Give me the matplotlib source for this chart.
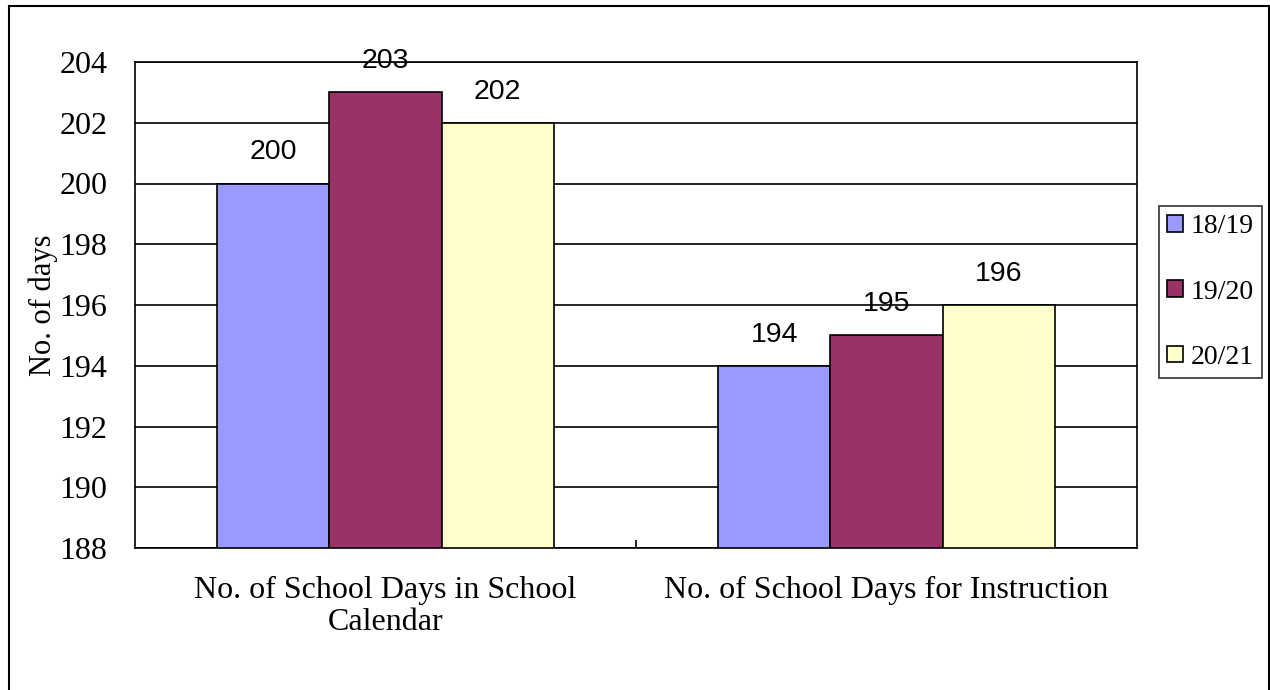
import matplotlib.pyplot as plt
import numpy as np
from matplotlib.patches import Rectangle

# data
categories = ['No. of School Days in School\nCalendar', 'No. of School Days for Instruction']
years = ['18/19', '19/20', '20/21']
days_1819 = [200, 194]
days_1920 = [203, 195]
days_2021 = [202, 196]
colors = ['#9999FF', '#993366', '#FFFFCC']

serif = ['Liberation Serif', 'DejaVu Serif']
plt.rcParams['font.family'] = serif

W, H = 1270, 690
fig = plt.figure(figsize=(W / 100, H / 100), dpi=100)
ax = fig.add_axes([135 / W, 1 - 548 / H, (1137 - 135) / W, (548 - 62) / H])

# outer border (bottom runs off the picture)
fig.patches.append(Rectangle((9 / W, -0.1), 1260 / W, 1.1 - 6 / H,
                             transform=fig.transFigure, fill=False,
                             edgecolor='black', linewidth=1.5))

x = np.arange(len(categories))
width = 0.224
series = [days_1819, days_1920, days_2021]
for i, (vals, lab, col) in enumerate(zip(series, years, colors)):
    bars = ax.bar(x + (i - 1) * width, [v - 188 for v in vals], width, bottom=188,
                  color=col, edgecolor='black', linewidth=1.2, label=lab, zorder=3)
    for b, v in zip(bars, vals):
        ax.annotate(str(v), (b.get_x() + b.get_width() / 2, v),
                    xytext=(0, 13), textcoords='offset points',
                    ha='center', va='bottom', fontsize=20.5,
                    family=['Liberation Sans', 'DejaVu Sans'], zorder=4)

ax.set_xlim(-0.5, 1.5)
ax.set_ylim(188, 204)
ax.set_yticks(range(188, 205, 2))
ax.yaxis.grid(True, color='black', linewidth=1.2, zorder=0)
ax.tick_params(axis='y', length=0, labelsize=23, pad=20)
ax.set_xticks(x)
ax.set_xticklabels(categories, fontsize=23, linespacing=1.15)
ax.tick_params(axis='x', length=0, pad=20)
# category divider tick
ax.set_xticks([0.5], minor=True)
ax.tick_params(axis='x', which='minor', direction='in', length=6, width=1.2)
for s in ax.spines.values():
    s.set_linewidth(1.2)
ax.set_ylabel('No. of days', fontsize=22, labelpad=1)

leg = fig.legend(loc='upper left', bbox_to_anchor=(1159 / W, 1 - 206 / H),
                 fontsize=20, frameon=True, fancybox=False, edgecolor='black',
                 handlelength=0.55, handleheight=0.55, handletextpad=0.3,
                 labelspacing=1.45, borderpad=0.3, borderaxespad=0)
leg.get_frame().set_linewidth(1.2)

fig.savefig('out.png', dpi=100)
